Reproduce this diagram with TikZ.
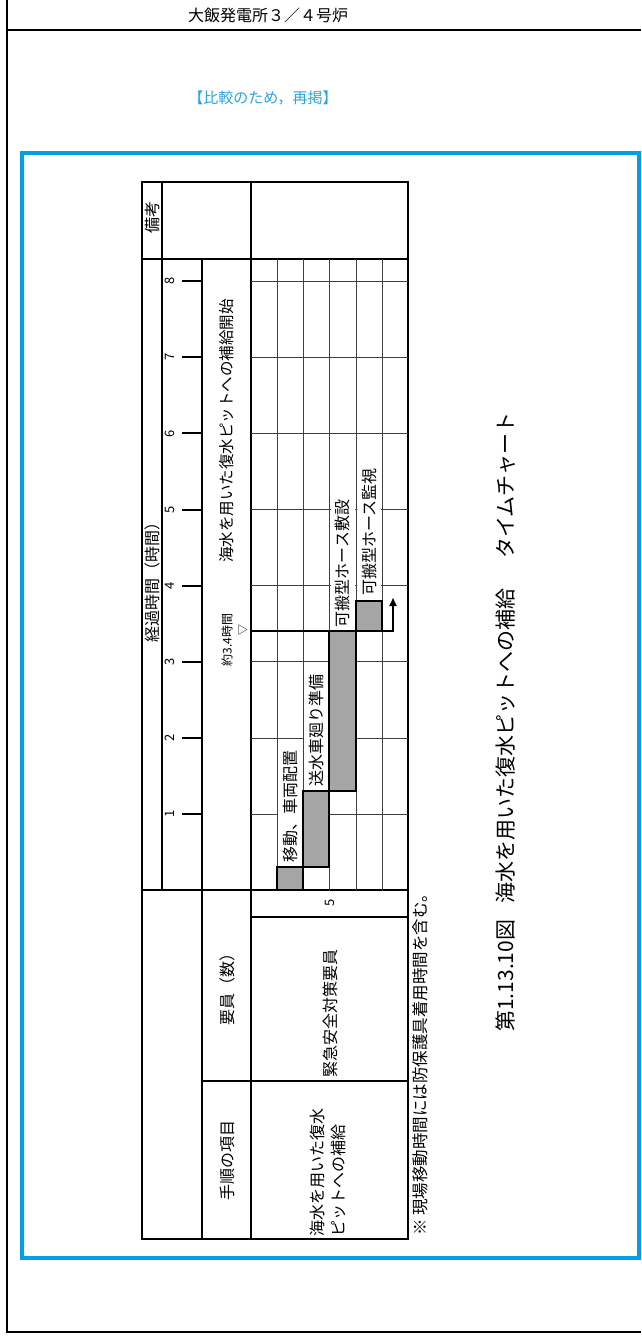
\documentclass[tikz,border=0pt]{standalone}
\usepackage{fontspec}
\setmainfont{Noto Sans CJK JP}
\usepackage{xcolor}
\usetikzlibrary{arrows.meta}
\definecolor{recapblue}{HTML}{00A0E9}
\definecolor{recaptext}{HTML}{2AA4DC}
\definecolor{bargray}{HTML}{A5A5A5}
\newcommand{\jpsize}[1]{\fontsize{#1}{#1}\selectfont}

\begin{document}
\begin{tikzpicture}[
    x=1pt, y=-1pt,
    outline/.style={line width=1.6pt},
    major/.style={line width=1.2pt},
    gridline/.style={line width=0.6pt, draw=black!75},
    cell/.style={font=\jpsize{16}, rotate=90, inner sep=0pt},
    tasklabel/.style={font=\jpsize{16}, rotate=90, anchor=west, fill=white, inner xsep=1pt, inner ysep=0pt, minimum height=24pt},
    bar/.style={fill=bargray, draw=black, line width=1.6pt},
    hourtick/.style={line width=2pt},
    startarrow/.style={-{Triangle[length=8pt, width=7pt]}, line width=1.8pt}
]
\useasboundingbox (0,0) rectangle (641,1336);

% page frame and header
\draw[outline] (7,0) -- (7,1332) -- (641,1332);
\draw[line width=2pt] (7,30) -- (641,30);
\node (plant) at (268,15) {\jpsize{16}大飯発電所３／４号炉};
\node[text=recaptext] (recap) at (263,98) {\jpsize{15}【比較のため，再掲】};
\draw[recapblue, line width=3.5pt] (22,153) rectangle (639,1258);

% table frame
\draw[outline] (142,182) rectangle (408,1239);
\draw[major] (162,182) -- (162,890);
\draw[major] (251,182) -- (251,1239);
\draw[major] (202,259) -- (202,1239);
\draw[major] (142,259) -- (408,259);
\draw[major] (142,890) -- (408,890);
\draw[major] (251,917) -- (408,917);
\draw[major] (202,1081) -- (408,1081);

% chart grid
\foreach \x in {277,303,329,356,382}
    \draw[gridline] (\x,259) -- (\x,890);
\foreach \h in {1,...,8} {
    \draw[gridline] (251,{890-76.1*\h}) -- (408,{890-76.1*\h});
    \node[cell, font=\jpsize{13}] (hour\h) at (170,{890-76.1*\h}) {\h};
    \draw[hourtick] (182,{890-76.1*\h}) -- (202,{890-76.1*\h});
}

% headings
\node[cell] (remarks) at (152,217) {備考};
\node[cell] (elapsed) at (152,578) {経過時間（時間）};
\node[cell, font=\jpsize{15.5}] (goal) at (227,431) {海水を用いた復水ピットへの補給開始};
\node[cell, font=\jpsize{12}] (approx) at (227,640) {約3.4時間};
\node[cell, font=\jpsize{11}] (mark) at (243,630) {▽};
\node[cell] (staffhead) at (227,985) {要員（数）};
\node[cell] (stephead) at (227,1160) {手順の項目};
\node[cell, font=\jpsize{13}] (count) at (330,903) {5};
\node[cell, anchor=west] (staff) at (330,1078) {緊急安全対策要員};
\node[cell, anchor=west, align=left, font=\fontsize{16}{21}\selectfont] (step) at (327.5,1237) {海水を用いた復水\\ピットへの補給};

% task labels
\node[tasklabel] (move)  at (290,{890-76.1*0.35}) {移動、車両配置};
\node[tasklabel] (prep)  at (316,{890-76.1*1.34}) {送水車廻り準備};
\node[tasklabel] (lay)   at (342.5,{890-76.1*3.44}) {可搬型ホース敷設};
\node[tasklabel] (watch) at (369,{890-76.1*3.85}) {可搬型ホース監視};

% bars
\draw[bar] (277,890) rectangle (303,{890-76.1*0.3});
\draw[bar] (303,{890-76.1*0.3}) rectangle (329,{890-76.1*1.3});
\draw[bar] (329,{890-76.1*1.3}) rectangle (356,{890-76.1*3.4});
\draw[bar] (356,{890-76.1*3.4}) rectangle (382,{890-76.1*3.8});

% start of feed at 3.4 h
\coordinate (start) at (251,{890-76.1*3.4});
\coordinate (turn) at (393,{890-76.1*3.4});
\coordinate (feed) at (393,598);
\draw[startarrow] (start) -- (turn) -- (feed);

% note and caption
\node[cell, anchor=west, font=\jpsize{16.5}] (note) at (420,1236) {※ 現場移動時間には防保護具着用時間を含む。};
\node[rotate=90, inner sep=0pt, font=\jpsize{21}] (caption) at (506,722) {第1.13.10図\hspace{0.8em}海水を用いた復水ピットへの補給\hspace{1.4em}タイムチャート};
\end{tikzpicture}
\end{document}
